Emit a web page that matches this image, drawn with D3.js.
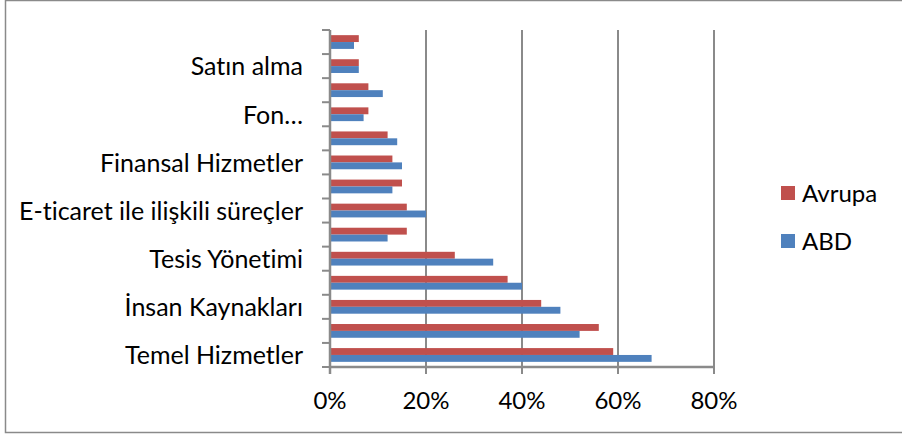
<!DOCTYPE html>
<html>
<head>
<meta charset="utf-8">
<script src="https://cdn.jsdelivr.net/npm/d3@7"></script>
<style>
  html, body { margin: 0; padding: 0; background: #fff; }
  svg { display: block; }
  text {
    font-family: Lato, "Open Sans", sans-serif; fill: #000;
    font-variant-ligatures: none; font-feature-settings: "liga" 0, "clig" 0;
  }
</style>
</head>
<body>
<svg id="chart" width="902" height="435"></svg>
<script>
// Categories listed bottom to top; only every other one carries a visible label.
const categories = [
  "Temel Hizmetler", "", "İnsan Kaynakları", "", "Tesis Yönetimi", "",
  "E-ticaret ile ilişkili süreçler", "", "Finansal Hizmetler", "", "Fon…", "",
  "Satın alma", ""
];
const avrupa = [59, 56, 44, 37, 26, 16, 16, 15, 13, 12, 8, 8, 6, 6];
const abd    = [67, 52, 48, 40, 34, 12, 20, 13, 15, 14, 7, 11, 6, 5];
const seriesNames = ["Avrupa", "ABD"];
const seriesColors = ["#C0504D", "#4F81BD"];
const xTicks = [0, 20, 40, 60, 80];

const svg = d3.select("#chart");
const margin = { left: 330, right: 188, top: 30, bottom: 68 };
const W = 902, H = 435;
const fontSize = 24;
const catFontSize = 25;

// outer frame
svg.append("rect")
  .attr("x", 5.5).attr("y", 0.5)
  .attr("width", 920).attr("height", 432)
  .attr("fill", "none").attr("stroke", "#8a8a8a").attr("stroke-width", 1.5);

const x = d3.scaleLinear().domain([0, 80]).range([margin.left, W - margin.right]);
const idx = d3.range(categories.length);
const y = d3.scaleBand().domain(idx.slice().reverse())
  .range([margin.top, H - margin.bottom]);
// each category holds two bars with a 150% gap
const inner = d3.scaleBand().domain([0, 1])
  .range([0, y.bandwidth()]).paddingOuter(0.75).paddingInner(0);

// vertical gridlines
svg.append("g").selectAll("line")
  .data(xTicks.filter(t => t > 0))
  .join("line")
  .attr("x1", d => x(d)).attr("x2", d => x(d))
  .attr("y1", margin.top).attr("y2", H - margin.bottom)
  .attr("stroke", "#8a8a8a").attr("stroke-width", 2);

// bars
const values = [avrupa, abd];
values.forEach((vals, s) => {
  svg.append("g").selectAll("rect")
    .data(idx)
    .join("rect")
    .attr("x", x(0))
    .attr("y", i => y(i) + inner(s))
    .attr("width", i => x(vals[i]) - x(0))
    .attr("height", inner.bandwidth())
    .attr("fill", seriesColors[s]);
});

// category axis
const yAxisG = svg.append("g").attr("transform", `translate(${x(0)},0)`);
yAxisG.append("line")
  .attr("x1", 0).attr("x2", 0)
  .attr("y1", margin.top).attr("y2", H - margin.bottom + 7)
  .attr("stroke", "#8a8a8a").attr("stroke-width", 2.5);
yAxisG.selectAll("line.tick")
  .data(d3.range(categories.length + 1))
  .join("line").attr("class", "tick")
  .attr("x1", -8).attr("x2", 0)
  .attr("y1", k => margin.top + k * y.step())
  .attr("y2", k => margin.top + k * y.step())
  .attr("stroke", "#8a8a8a").attr("stroke-width", 2);
yAxisG.selectAll("text")
  .data(idx.filter(i => categories[i] !== ""))
  .join("text")
  .attr("x", -27)
  .attr("y", i => y(i) + y.bandwidth() / 2)
  .attr("dy", "0.37em")
  .attr("text-anchor", "end")
  .attr("font-size", catFontSize)
  .text(i => categories[i]);

// value axis
const xAxisG = svg.append("g").attr("transform", `translate(0,${H - margin.bottom})`);
xAxisG.append("line")
  .attr("x1", x(0)).attr("x2", x(80) + 1)
  .attr("stroke", "#8a8a8a").attr("stroke-width", 2.5);
xAxisG.selectAll("line.tick")
  .data(xTicks)
  .join("line").attr("class", "tick")
  .attr("x1", d => x(d)).attr("x2", d => x(d))
  .attr("y1", 0).attr("y2", 7)
  .attr("stroke", "#8a8a8a").attr("stroke-width", 2);
xAxisG.selectAll("text")
  .data(xTicks)
  .join("text")
  .attr("x", d => x(d))
  .attr("y", 42)
  .attr("text-anchor", "middle")
  .attr("font-size", fontSize)
  .text(d => d + "%");

// legend
const legend = svg.append("g").attr("transform", "translate(781,186)");
seriesNames.forEach((name, s) => {
  const g = legend.append("g").attr("transform", `translate(0,${s * 48})`);
  g.append("rect").attr("width", 14).attr("height", 14).attr("fill", seriesColors[s]);
  g.append("text").attr("x", 21).attr("y", 7).attr("dy", "0.37em")
    .attr("font-size", fontSize).text(name);
});
</script>
</body>
</html>
